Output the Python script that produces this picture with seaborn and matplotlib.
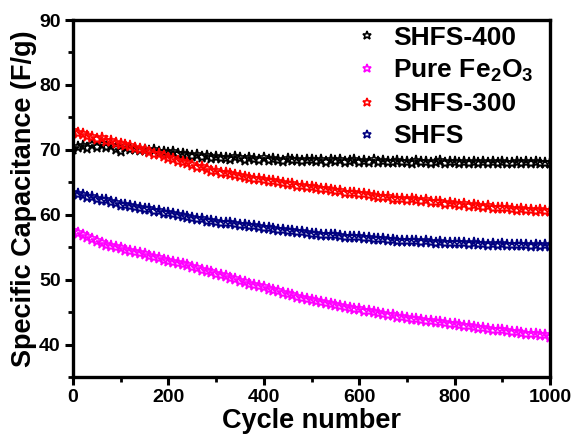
import numpy as np
import pandas as pd
import matplotlib
matplotlib.use("Agg")
import matplotlib.pyplot as plt
from matplotlib.ticker import MultipleLocator
import seaborn as sns

cycles = list(range(0, 1001, 10))

shfs400 = [70.1, 70.4, 70.6, 70.3, 70.7, 70.5, 70.8, 70.4, 70.6, 70.2,
           69.8, 70.4, 70.1, 70.2, 69.9, 70.0, 69.8, 69.9, 69.6, 69.7,
           69.5, 69.6, 69.3, 69.4, 69.2, 69.1, 69.2, 68.9, 69.0, 68.8,
           68.9, 68.7, 68.8, 68.6, 68.9, 68.7, 68.5, 68.7, 68.6, 68.5,
           68.7, 68.4, 68.6, 68.5, 68.3, 68.6, 68.4, 68.5, 68.3, 68.4,
           68.5, 68.3, 68.4, 68.2, 68.5, 68.3, 68.4, 68.2, 68.3, 68.4,
           68.2, 68.3, 68.1, 68.4, 68.2, 68.3, 68.1, 68.2, 68.3, 68.1,
           68.2, 68.0, 68.3, 68.1, 68.2, 68.0, 68.1, 68.3, 68.0, 68.1,
           68.2, 68.0, 68.1, 67.9, 68.2, 68.0, 68.1, 67.9, 68.1, 68.0,
           68.2, 67.9, 68.0, 68.1, 67.9, 68.1, 68.0, 68.2, 67.9, 68.0,
           68.0]

fe2o3 = [57.5, 57.2, 56.8, 56.5, 56.2, 55.9, 55.7, 55.4, 55.2, 55.0,
         54.8, 54.6, 54.4, 54.2, 54.1, 53.9, 53.7, 53.5, 53.3, 53.1,
         52.9, 52.7, 52.6, 52.4, 52.2, 52.0, 51.8, 51.5, 51.3, 51.1,
         50.9, 50.7, 50.5, 50.3, 50.1, 49.8, 49.6, 49.4, 49.2, 49.0,
         48.8, 48.6, 48.4, 48.2, 48.0, 47.8, 47.6, 47.4, 47.2, 47.0,
         46.8, 46.7, 46.5, 46.4, 46.2, 46.1, 45.9, 45.8, 45.6, 45.5,
         45.4, 45.2, 45.1, 45.0, 44.8, 44.7, 44.6, 44.5, 44.3, 44.2,
         44.1, 44.0, 43.9, 43.8, 43.7, 43.6, 43.5, 43.4, 43.3, 43.2,
         43.1, 43.0, 42.9, 42.8, 42.7, 42.6, 42.5, 42.4, 42.3, 42.2,
         42.2, 42.1, 42.0, 41.9, 41.8, 41.7, 41.7, 41.6, 41.5, 41.4,
         41.2]

shfs300 = [72.9, 72.6, 72.4, 72.1, 72.0, 71.7, 71.8, 71.4, 71.3, 71.0,
           70.9, 70.7, 70.6, 70.3, 70.2, 69.9, 69.7, 69.4, 69.3, 69.0,
           68.7, 68.6, 68.3, 68.2, 67.9, 67.7, 67.4, 67.3, 67.0, 66.8,
           66.7, 66.5, 66.4, 66.2, 66.1, 65.9, 65.8, 65.7, 65.5, 65.5,
           65.4, 65.2, 65.2, 65.0, 64.9, 64.8, 64.7, 64.5, 64.5, 64.3,
           64.3, 64.1, 64.0, 63.9, 63.8, 63.7, 63.6, 63.4, 63.4, 63.3,
           63.2, 63.2, 63.0, 62.9, 62.8, 62.7, 62.8, 62.5, 62.5, 62.4,
           62.3, 62.4, 62.2, 62.1, 62.2, 62.0, 61.9, 61.9, 61.7, 61.8,
           61.6, 61.5, 61.6, 61.4, 61.5, 61.3, 61.2, 61.3, 61.1, 61.1,
           61.0, 61.1, 60.9, 60.8, 60.9, 60.7, 60.8, 60.6, 60.7, 60.6,
           60.5]

shfs = [63.4, 63.2, 63.0, 62.8, 62.7, 62.5, 62.3, 62.2, 61.9, 61.8,
        61.5, 61.5, 61.3, 61.2, 61.0, 60.9, 60.9, 60.6, 60.5, 60.3,
        60.2, 60.1, 59.9, 59.8, 59.7, 59.5, 59.4, 59.3, 59.1, 59.0,
        58.9, 58.8, 58.7, 58.7, 58.5, 58.4, 58.4, 58.2, 58.2, 58.1,
        58.0, 57.9, 57.8, 57.7, 57.7, 57.5, 57.5, 57.3, 57.3, 57.2,
        57.1, 57.1, 56.9, 56.9, 56.8, 56.8, 56.7, 56.6, 56.6, 56.5,
        56.5, 56.4, 56.4, 56.3, 56.2, 56.2, 56.1, 56.1, 56.0, 56.0,
        56.0, 55.9, 55.9, 55.8, 55.9, 55.8, 55.7, 55.8, 55.7, 55.6,
        55.7, 55.6, 55.6, 55.5, 55.6, 55.5, 55.5, 55.4, 55.5, 55.4,
        55.5, 55.4, 55.3, 55.4, 55.3, 55.3, 55.2, 55.3, 55.2, 55.3,
        55.2]

labels = ["SHFS-400", r"Pure Fe$_{\mathbf{2}}$O$_{\mathbf{3}}$", "SHFS-300", "SHFS"]
series = [shfs400, fe2o3, shfs300, shfs]
colors = ["#000000", "#FF00FF", "#FF0000", "#000080"]

sns.set_style("ticks")
plt.rcParams["font.family"] = ["Liberation Sans", "DejaVu Sans"]
plt.rcParams["font.weight"] = "bold"
plt.rcParams["mathtext.fontset"] = "custom"
plt.rcParams["mathtext.bf"] = "Liberation Sans:bold"
plt.rcParams["mathtext.rm"] = "Liberation Sans:bold"
for k in ["text.color", "axes.labelcolor", "xtick.color", "ytick.color", "axes.edgecolor"]:
    plt.rcParams[k] = "black"

fig = plt.figure(figsize=(5.73, 4.41), dpi=100)
ax = fig.add_axes([73/573, 1-377/441, (550-73)/573, (377-20)/441])

for lab, vals, col in zip(labels, series, colors):
    df = pd.DataFrame({"cycle": cycles, "cap": vals})
    sns.lineplot(data=df, x="cycle", y="cap", ax=ax, linestyle="None",
                 marker="*", markersize=8.5, markerfacecolor="none",
                 markeredgecolor=col, markeredgewidth=1.2, color=col,
                 label=lab)

ax.set_xlim(0, 1000)
ax.set_ylim(35, 90)
ax.xaxis.set_major_locator(MultipleLocator(200))
ax.xaxis.set_minor_locator(MultipleLocator(100))
ax.yaxis.set_major_locator(MultipleLocator(10))
ax.yaxis.set_minor_locator(MultipleLocator(5))
ax.set_yticks([40, 50, 60, 70, 80, 90])

for sp in ax.spines.values():
    sp.set_linewidth(2.4)
    sp.set_visible(True)
    sp.set_color("black")
ax.tick_params(which="major", direction="out", length=6, width=2.2,
               labelsize=14, top=False, right=False, colors="black", pad=3)
ax.tick_params(which="minor", direction="out", length=3.5, width=2.0,
               top=False, right=False, colors="black")
for t in ax.get_xticklabels() + ax.get_yticklabels():
    t.set_fontweight("bold")

ax.set_xlabel("Cycle number", fontsize=19.5, fontweight="bold", labelpad=1)
ax.set_ylabel("Specific Capacitance (F/g)", fontsize=19.5, fontweight="bold", labelpad=1)

leg = ax.legend(loc="upper left", bbox_to_anchor=(343/573, 1-15/441),
                bbox_transform=fig.transFigure, frameon=False,
                fontsize=19, handlelength=1.0, handletextpad=0.5,
                labelspacing=0.3, borderaxespad=0, markerscale=0.75)
for t in leg.get_texts():
    t.set_fontweight("bold")

fig.savefig("out.png", dpi=100)
